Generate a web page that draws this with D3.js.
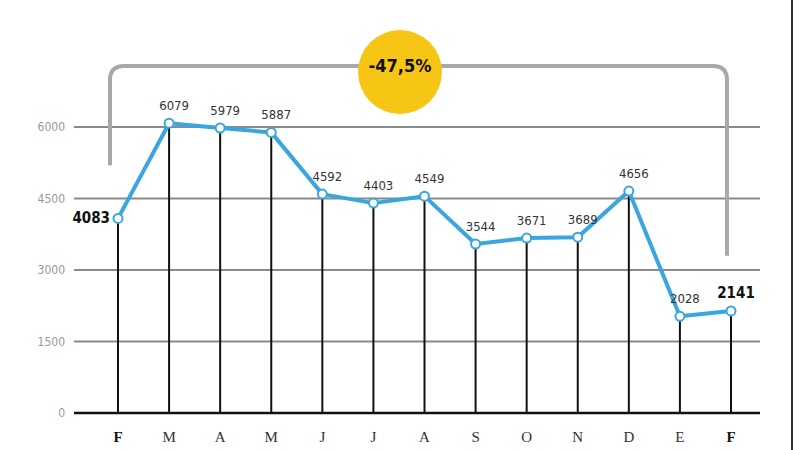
<!DOCTYPE html>
<html><head><meta charset="utf-8">
<script src="https://cdn.jsdelivr.net/npm/d3@7"></script>
<style>body{margin:0;background:#fff}svg{display:block}</style>
</head><body><svg id="c" width="800" height="450"></svg>
<script>
const months = ["F","M","A","M","J","J","A","S","O","N","D","E","F"];
const values = [4083,6079,5979,5887,4592,4403,4549,3544,3671,3689,4656,2028,2141];
const yTicks = [0,1500,3000,4500,6000];
const changeLabel = "-47,5%";

const svg = d3.select("#c");
const x = d3.scalePoint().domain(d3.range(months.length)).range([118,731]);
const y = d3.scaleLinear().domain([0,6000]).range([413,127]);
const numFont = "'Liberation Sans Narrow','DejaVu Sans Condensed',sans-serif";

// right border
svg.append("line").attr("x1",792).attr("x2",792).attr("y1",0).attr("y2",450)
  .attr("stroke","#333").attr("stroke-width",2);

// gridlines
const yAxis = d3.axisLeft(y).tickValues(yTicks).tickSize(0).tickPadding(9).tickFormat(d=>d);
const gy = svg.append("g").attr("transform","translate(74,0)").call(yAxis);
gy.select(".domain").remove();
gy.selectAll("text").attr("fill","#999").style("font-family",numFont).style("font-size","12px");
svg.append("g").selectAll("line").data(yTicks.filter(d=>d>0)).join("line")
  .attr("x1",74).attr("x2",760).attr("y1",d=>y(d)).attr("y2",d=>y(d))
  .attr("stroke","#8a8a8a").attr("stroke-width",2);

// bracket
const bx0 = 110, bx1 = 727, by = 66, r = 14;
svg.append("path")
  .attr("d",`M${bx0},${y(5200)} L${bx0},${by+r} Q${bx0},${by} ${bx0+r},${by} L${bx1-r},${by} Q${bx1},${by} ${bx1},${by+r} L${bx1},${y(3300)}`)
  .attr("fill","none").attr("stroke","#a8a8a8").attr("stroke-width",4);

// vertical drop lines
svg.append("g").selectAll("line").data(values).join("line")
  .attr("x1",(d,i)=>x(i)).attr("x2",(d,i)=>x(i)).attr("y1",d=>y(d)).attr("y2",y(0))
  .attr("stroke","#111").attr("stroke-width",2);

// baseline
svg.append("line").attr("x1",74).attr("x2",760).attr("y1",y(0)).attr("y2",y(0))
  .attr("stroke","#111").attr("stroke-width",2.5);

// x labels
svg.append("g").selectAll("text").data(months).join("text")
  .attr("x",(d,i)=>x(i)).attr("y",442).attr("text-anchor","middle")
  .attr("fill",(d,i)=>(i===0||i===months.length-1)?"#111":"#333")
  .style("font-family","'Liberation Serif','DejaVu Serif',serif")
  .style("font-weight",(d,i)=>(i===0||i===months.length-1)?"bold":"normal")
  .style("font-size","15px").text(d=>d);

// line
const line = d3.line().x((d,i)=>x(i)).y(d=>y(d));
svg.append("path").datum(values).attr("d",line).attr("fill","none")
  .attr("stroke","#3aa6e0").attr("stroke-width",4).attr("stroke-linejoin","round");
svg.append("g").selectAll("circle").data(values).join("circle")
  .attr("cx",(d,i)=>x(i)).attr("cy",d=>y(d)).attr("r",4.5)
  .attr("fill","#fff").attr("stroke","#3aa6e0").attr("stroke-width",2);

// value labels
const last = values.length-1;
svg.append("g").selectAll("text").data(values).join("text")
  .attr("x",(d,i)=> i===0 ? x(i)-8 : x(i)+5)
  .attr("y",(d,i)=> i===0 ? y(d)+5 : y(d)-13)
  .attr("text-anchor",(d,i)=> i===0 ? "end" : "middle")
  .attr("fill",(d,i)=>(i===0||i===last)?"#111":"#333")
  .style("font-family",numFont)
  .style("font-weight",(d,i)=>(i===0||i===last)?"bold":"normal")
  .style("font-size",(d,i)=>(i===0||i===last)?"15px":"13px")
  .text(d=>d);

// yellow badge
svg.append("circle").attr("cx",400).attr("cy",72).attr("r",42).attr("fill","#f7c514");
svg.append("text").attr("x",400).attr("y",72).attr("text-anchor","middle")
  .style("font-family",numFont).style("font-weight","bold").style("font-size","18px")
  .attr("fill","#111").text(changeLabel);
</script></body></html>
